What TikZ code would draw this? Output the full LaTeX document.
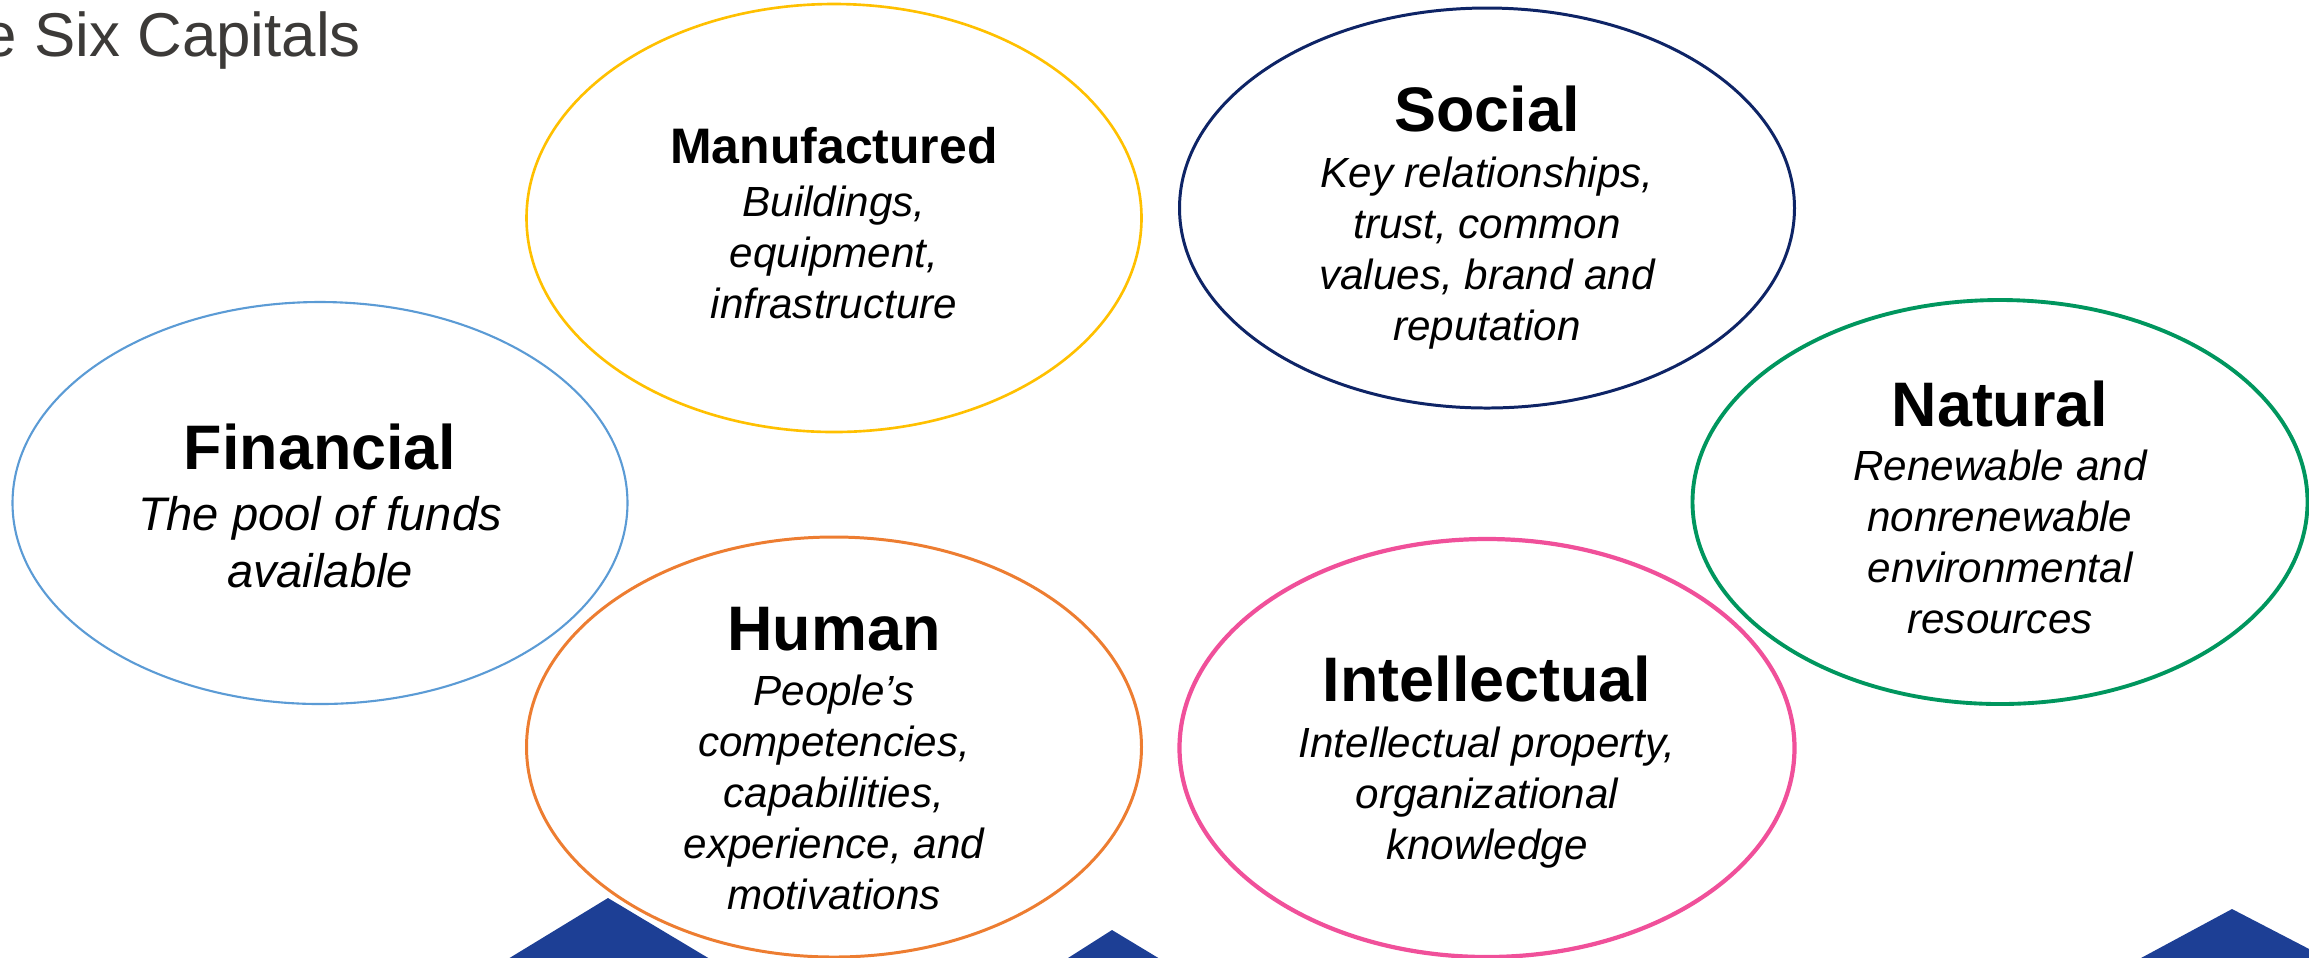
\documentclass[tikz,border=0pt]{standalone}
\usepackage{fontspec}
\setmainfont{Liberation Sans}
\usepackage{tikz}
\usetikzlibrary{shapes.geometric, positioning}

\definecolor{finblue}{HTML}{5B9BD5}
\definecolor{mangold}{HTML}{FFC000}
\definecolor{socnavy}{HTML}{0E2466}
\definecolor{natgreen}{HTML}{00965E}
\definecolor{humorange}{HTML}{ED7D31}
\definecolor{intpink}{HTML}{F0509A}
\definecolor{roofblue}{HTML}{1D3F95}
\definecolor{titlegray}{HTML}{3C3A38}

\begin{document}
\begin{tikzpicture}[
				capital/.style={ellipse, draw, fill=white, inner sep=0pt, minimum width=6.15cm},
				head/.style={anchor=base, inner sep=0pt, font=\bfseries\fontsize{17.9}{20}\selectfont},
				desc/.style={align=center, inner sep=0pt, font=\itshape\fontsize{12}{14.5}\selectfont}]

				\useasboundingbox (0,0) rectangle (23.09,-9.57);
				\clip (0,0) rectangle (23.09,-9.57);

				% blue roofs along the bottom edge
				\fill[roofblue] (4.98,-9.65) -- (6.08,-8.98) -- (7.20,-9.65) -- cycle;
				\fill[roofblue] (10.57,-9.65) -- (11.12,-9.30) -- (11.70,-9.65) -- cycle;
				\fill[roofblue] (21.28,-9.65) -- (22.32,-9.09) -- (23.40,-9.65) -- cycle;

				\node[anchor=base west, inner sep=0pt, text=titlegray, font=\fontsize{17.6}{20}\selectfont] (title) at (-0.18,-0.56) {e Six Capitals};

				% the six capitals
				\node[capital, draw=finblue, line width=0.6pt, minimum height=4.02cm] (fin) at (3.20,-5.03) {};
				\node[capital, draw=mangold, line width=0.75pt, minimum height=4.28cm] (man) at (8.34,-2.18) {};
				\node[capital, draw=socnavy, line width=0.85pt, minimum height=4.00cm] (soc) at (14.87,-2.08) {};
				\node[capital, draw=natgreen, line width=1.1pt, minimum height=4.04cm] (nat) at (20.00,-5.02) {};
				\node[capital, draw=humorange, line width=0.85pt, minimum height=4.20cm] (hum) at (8.34,-7.47) {};
				\node[capital, draw=intpink, line width=1.2pt, minimum height=4.18cm] (int) at (14.87,-7.48) {};

				\node[head] (fin-t) at (3.20,-4.69) {Financial};
				\node[desc, font=\itshape\fontsize{13.4}{16.2}\selectfont, below=0.27cm of fin-t.base] (fin-d) {The pool of funds\\available};

				\node[head, font=\bfseries\fontsize{14.2}{17}\selectfont] (man-t) at (8.34,-1.63) {Manufactured};
				\node[desc, below=0.22cm of man-t.base] (man-d) {Buildings,\\equipment,\\infrastructure};

				\node[head] (soc-t) at (14.87,-1.31) {Social};
				\node[desc, below=0.25cm of soc-t.base] (soc-d) {Key relationships,\\trust, common\\values, brand and\\reputation};

				\node[head] (nat-t) at (20.00,-4.26) {Natural};
				\node[desc, below=0.23cm of nat-t.base] (nat-d) {Renewable and\\nonrenewable\\environmental\\resources};

				\node[head] (hum-t) at (8.34,-6.50) {Human};
				\node[desc, below=0.24cm of hum-t.base] (hum-d) {People’s\\competencies,\\capabilities,\\experience, and\\motivations};

				\node[head] (int-t) at (14.87,-7.01) {Intellectual};
				\node[desc, below=0.25cm of int-t.base] (int-d) {Intellectual property,\\organizational\\knowledge};
			\end{tikzpicture}
\end{document}
